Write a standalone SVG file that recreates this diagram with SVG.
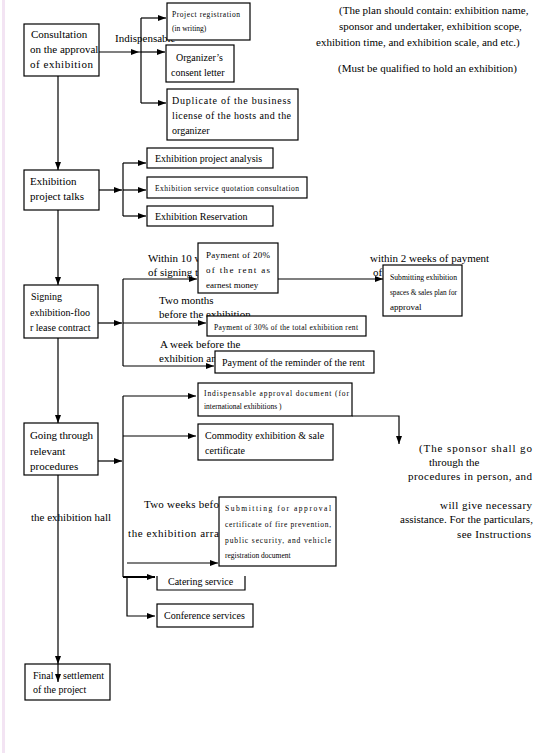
<svg xmlns="http://www.w3.org/2000/svg" width="545" height="753" viewBox="0 0 545 753">
<style>
.b{fill:#fff;stroke:#000;stroke-width:1.2}
.t{font-family:"Liberation Serif","Times New Roman",serif;font-size:11px;fill:#000}
.s{font-family:"Liberation Serif","Times New Roman",serif;font-size:10px;fill:#000}
.m{font-family:"Liberation Serif","Times New Roman",serif;font-size:9px;fill:#000}
.x{font-family:"Liberation Serif","Times New Roman",serif;font-size:7.5px;fill:#000}
.c path{fill:none;stroke:#000;stroke-width:1.2}
</style>
<defs>
<marker id="a" viewBox="0 0 8 6" refX="8" refY="3" markerWidth="8" markerHeight="6" markerUnits="userSpaceOnUse" orient="auto"><path d="M0 0L8 3L0 6Z" fill="#000"/></marker>
</defs>
<rect x="0" y="0" width="545" height="753" fill="#fff"/>
<rect x="2" y="0" width="3" height="753" fill="#f3e4f3"/>
<g class="c">
<path d="M99 52H139" marker-end="url(#a)"/>
<path d="M139 52H141M141 18V103"/>
<path d="M141 18H166" marker-end="url(#a)"/>
<path d="M141 52H165" marker-end="url(#a)"/>
<path d="M141 103H166" marker-end="url(#a)"/>
<path d="M58 76V170" marker-end="url(#a)"/>
<path d="M58 210V285" marker-end="url(#a)"/>
<path d="M58 338V423" marker-end="url(#a)"/>
<path d="M58 475V664" marker-end="url(#a)"/>
<path d="M99 190H122" marker-end="url(#a)"/>
<path d="M123 163V216"/>
<path d="M123 163H146" marker-end="url(#a)"/>
<path d="M123 190H146" marker-end="url(#a)"/>
<path d="M123 216H146" marker-end="url(#a)"/>
<path d="M98 323H122" marker-end="url(#a)"/>
<path d="M123 279V366"/>
<path d="M123 279H197" marker-end="url(#a)"/>
<path d="M278 279H383" marker-end="url(#a)"/>
<path d="M123 323H206" marker-end="url(#a)"/>
<path d="M123 366H214" marker-end="url(#a)"/>
<path d="M98 461H122" marker-end="url(#a)"/>
<path d="M123 396V577"/>
<path d="M123 396H196" marker-end="url(#a)"/>
<path d="M123 436H196" marker-end="url(#a)"/>
<path d="M352 416H399V444" marker-end="url(#a)"/>
<path d="M127 563H218" marker-end="url(#a)"/>
<path d="M123 577H155" marker-end="url(#a)" style="stroke-width:2"/>
<path d="M127 577V616H155" marker-end="url(#a)"/>
</g>
<g id="t1">
<text class="t" x="339" y="14">(The plan should contain: exhibition name,</text>
<text class="t" x="339" y="30">sponsor and undertaker, exhibition scope,</text>
<text class="t" x="316" y="46">exhibition time, and exhibition scale, and etc.)</text>
<text class="t" x="338" y="72">(Must be qualified to hold an exhibition)</text>
<text class="t" x="115" y="42">Indispensable</text>
</g>
<g id="nA"><rect class="b" x="24" y="24" width="75" height="52"/>
<text class="t" x="31" y="38">Consultation</text>
<text class="t" x="30" y="53">on the approval</text>
<text class="t" x="30" y="68" textLength="63" lengthAdjust="spacing">of exhibition</text></g>
<g id="nA1"><rect class="b" x="167" y="3" width="83" height="37"/>
<text class="x" x="172" y="17" textLength="68" lengthAdjust="spacing">Project registration</text>
<text class="x" x="172" y="31">(in writing)</text></g>
<g id="nA2"><rect class="b" x="166" y="45" width="68" height="37"/>
<text class="s" x="176" y="61">Organizer’s</text>
<text class="s" x="171" y="76">consent letter</text></g>
<g id="nA3"><rect class="b" x="167" y="89" width="131" height="51"/>
<text class="s" x="172" y="104" textLength="119" lengthAdjust="spacing">Duplicate of the business</text>
<text class="s" x="172" y="119" textLength="119" lengthAdjust="spacing">license of the hosts and the</text>
<text class="s" x="172" y="134">organizer</text></g>
<g id="nB"><rect class="b" x="24" y="170" width="75" height="40"/>
<text class="t" x="30" y="185">Exhibition</text>
<text class="t" x="30" y="200">project talks</text></g>
<g id="nB1"><rect class="b" x="147" y="148" width="126" height="20"/>
<text class="s" x="155" y="162">Exhibition project analysis</text></g>
<g id="nB2"><rect class="b" x="147" y="177" width="160" height="21"/>
<text class="x" x="155" y="191" textLength="144" lengthAdjust="spacing">Exhibition service quotation consultation</text></g>
<g id="nB3"><rect class="b" x="147" y="206" width="126" height="20"/>
<text class="s" x="155" y="220">Exhibition Reservation</text></g>
<g id="t2">
<text class="t" x="148" y="262">Within 10 w</text>
<text class="t" x="148" y="276">of signing t</text>
<text class="t" x="370" y="262">within 2 weeks of payment</text>
<text class="t" x="373" y="276">of</text>
<text class="t" x="159" y="304">Two months</text>
<text class="t" x="159" y="318">before the exhibition</text>
<text class="t" x="160" y="348">A week before the</text>
<text class="t" x="159" y="362">exhibition and</text>
</g>
<g id="nC"><rect class="b" x="24" y="285" width="74" height="53"/>
<text class="s" x="31" y="300">Signing</text>
<text class="s" x="30" y="316">exhibition-floo</text>
<text class="s" x="30" y="331">r lease contract</text></g>
<g id="nC1"><rect class="b" x="198" y="243" width="80" height="50"/>
<text class="m" x="206" y="258" textLength="64" lengthAdjust="spacing">Payment of 20%</text>
<text class="m" x="206" y="273" textLength="64" lengthAdjust="spacing">of the rent as</text>
<text class="m" x="206" y="288">earnest money</text></g>
<g id="nC2"><rect class="b" x="383" y="265" width="79" height="51"/>
<text class="m" x="390" y="280" textLength="67" lengthAdjust="spacingAndGlyphs">Submitting  exhibition</text>
<text class="m" x="390" y="295" textLength="67" lengthAdjust="spacingAndGlyphs">spaces &amp; sales plan for</text>
<text class="m" x="390" y="310">approval</text></g>
<g id="nC3"><rect class="b" x="207" y="316" width="159" height="20"/>
<text class="x" x="214" y="330" textLength="144" lengthAdjust="spacing">Payment of 30% of the total exhibition rent</text></g>
<g id="nC4"><rect class="b" x="215" y="351" width="159" height="22"/>
<text class="s" x="222" y="366">Payment of the reminder of the rent</text></g>
<g id="nD"><rect class="b" x="24" y="423" width="74" height="52"/>
<text class="t" x="30" y="439" textLength="63" lengthAdjust="spacing">Going through</text>
<text class="t" x="30" y="455">relevant</text>
<text class="t" x="30" y="470">procedures</text></g>
<g id="nD1"><rect class="b" x="198" y="383" width="154" height="33"/>
<text class="x" x="204" y="396" textLength="145" lengthAdjust="spacing">Indispensable approval document (for</text>
<text class="x" x="204" y="409">international exhibitions )</text></g>
<g id="nD2"><rect class="b" x="198" y="424" width="135" height="36"/>
<text class="s" x="205" y="439">Commodity exhibition &amp; sale</text>
<text class="s" x="205" y="454">certificate</text></g>
<g id="t3">
<text class="t" x="419" y="452" textLength="113" lengthAdjust="spacing">(The sponsor shall go</text>
<text class="t" x="429" y="466">through the</text>
<text class="t" x="408" y="480" textLength="124" lengthAdjust="spacing">procedures in person, and</text>
<text class="t" x="440" y="509" textLength="92" lengthAdjust="spacing">will give necessary</text>
<text class="t" x="400" y="523">assistance. For the particulars,</text>
<text class="t" x="457" y="538" textLength="74" lengthAdjust="spacing">see Instructions</text>
<text class="t" x="31" y="521">the exhibition hall</text>
<text class="t" x="144" y="508" textLength="75" lengthAdjust="spacing">Two weeks befo</text>
<text class="t" x="128" y="537" textLength="91" lengthAdjust="spacing">the exhibition arra</text>
</g>
<g id="nD3"><rect class="b" x="219" y="497" width="117" height="69"/>
<text class="x" x="225" y="511" textLength="106" lengthAdjust="spacing">Submitting for approval</text>
<text class="x" x="225" y="527" textLength="106" lengthAdjust="spacing">certificate of fire prevention,</text>
<text class="x" x="225" y="543" textLength="106" lengthAdjust="spacing">public security, and vehicle</text>
<text class="x" x="225" y="558">registration document</text></g>
<g id="nD4"><path d="M157 576V590H245V576" fill="#fff" stroke="#000" stroke-width="1.2"/>
<text class="s" x="168" y="585">Catering service</text></g>
<g id="nD5"><rect class="b" x="157" y="604" width="96" height="23"/>
<text class="s" x="164" y="619">Conference services</text></g>
<g id="nE"><rect class="b" x="25" y="664" width="85" height="36" style="fill:none"/>
<path d="M58 664V682" fill="none" stroke="#000" stroke-width="1.2" marker-end="url(#a)"/>
<text class="s" x="33" y="679">Final</text>
<text class="s" x="63" y="679">settlement</text>
<text class="s" x="33" y="693">of the project</text></g>
</svg>
